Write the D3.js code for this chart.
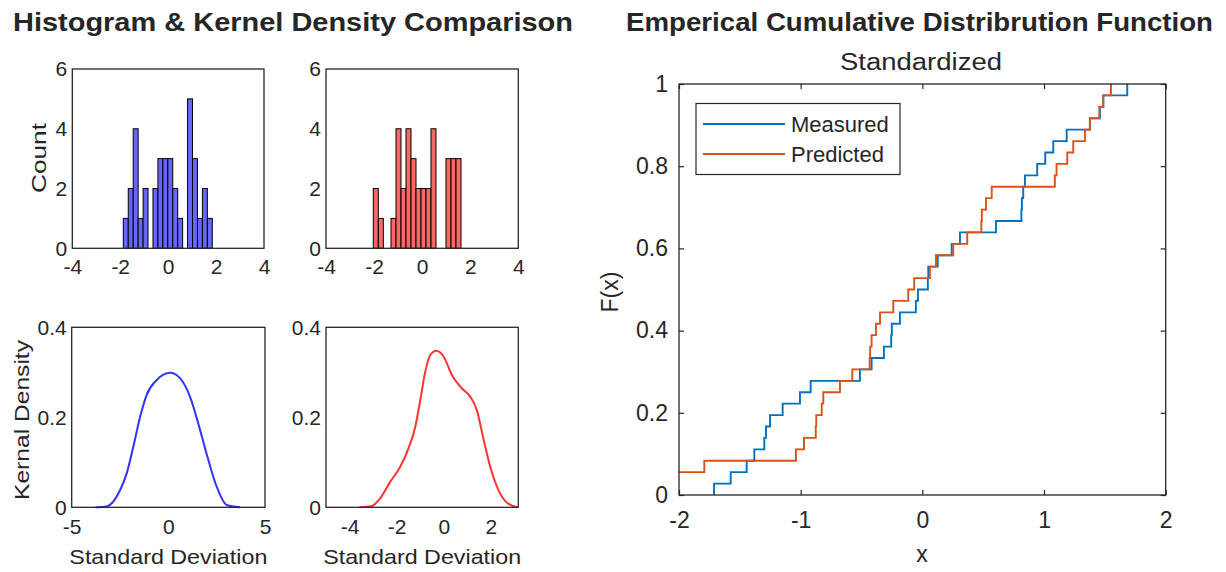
<!DOCTYPE html>
<meta charset="utf-8">
<title>Histogram, Kernel Density and ECDF</title>
<script src="https://d3js.org/d3.v7.min.js"></script>
<style>
  body { margin: 0; background: #fff; }
  text { font-family: "Liberation Sans", Arial, Helvetica, sans-serif; fill: #262626; }
</style>
<body>
</body>
<script>
// ---- histogram bins (left edge, in standard deviations) ----
var measuredBinLeft = [-1.871, -1.665, -1.458, -1.252, -1.046, -0.633, -0.427, -0.221, -0.014, 0.192, 0.398, 0.811, 1.017, 1.224, 1.430, 1.636];
var measuredCounts = [1, 2, 4, 1, 2, 2, 3, 3, 3, 2, 1, 5, 3, 1, 2, 1];
var measuredBinWidth = 0.206;
var predictedBinLeft = [-2.032, -1.824, -1.296, -1.088, -0.880, -0.672, -0.464, -0.256, -0.048, 0.160, 0.368, 0.992, 1.200, 1.408];
var predictedCounts = [2, 1, 1, 4, 2, 4, 3, 2, 2, 2, 4, 3, 3, 3];
var predictedBinWidth = 0.208;

// ---- kernel density curves ----
var measuredKdeX = [-3.76, -3.19, -2.5, -2.15, -1.81, -1.46, -1.12, -0.6, 0.09, 0.6, 1.12, 1.64, 2.07, 2.5, 3.02, 3.71];
var measuredKdeY = [0, 0.002, 0.038, 0.076, 0.135, 0.201, 0.25, 0.283, 0.299, 0.287, 0.246, 0.172, 0.105, 0.046, 0.005, 0];
var predictedKdeX = [-3.58, -3.05, -2.70, -2.27, -1.85, -1.50, -1.21, -1.00, -0.79, -0.58, -0.32, -0.01, 0.34, 0.77, 1.12, 1.40, 1.69, 1.97, 2.32, 2.68, 3.13];
var predictedKdeY = [0, 0.003, 0.02, 0.057, 0.09, 0.131, 0.179, 0.238, 0.301, 0.338, 0.348, 0.335, 0.294, 0.264, 0.246, 0.216, 0.15, 0.09, 0.038, 0.01, 0];

// ---- sorted standardized samples for the ECDF ----
var measuredSorted = [-1.712, -1.575, -1.444, -1.381, -1.299, -1.285, -1.252, -1.148, -1.006, -0.918,
  -0.513, -0.417, -0.316, -0.256, -0.251, -0.184, -0.053, -0.036, 0.045, 0.049,
  0.126, 0.241, 0.309, 0.605, 0.814, 0.818, 0.829, 0.843, 0.944, 1.010,
  1.076, 1.186, 1.377, 1.459, 1.487, 1.684];
var predictedSorted = [-2.03, -2.01, -1.792, -1.039, -0.973, -0.876, -0.872, -0.827, -0.814, -0.677,
  -0.576, -0.433, -0.429, -0.417, -0.381, -0.348, -0.239, -0.116, -0.067, 0.062,
  0.112, 0.254, 0.369, 0.485, 0.489, 0.523, 0.570, 1.089, 1.103, 1.191,
  1.240, 1.336, 1.377, 1.454, 1.487, 1.550];

// ---- ticks ----
var histXTicks = [-4, -2, 0, 2, 4];
var histYTicks = [0, 2, 4, 6];
var kdeYTicks = [0, 0.2, 0.4];
var measuredKdeXTicks = [-5, 0, 5];
var predictedKdeXTicks = [-4, -2, 0, 2];
var ecdfXTicks = [-2, -1, 0, 1, 2];
var ecdfYTicks = [0, 0.2, 0.4, 0.6, 0.8, 1];

var svg = d3.select("body").append("svg")
            .attr("width", 1226)
            .attr("height", 572);

var axisColor = "#262626";
var smallText = "#404040";

function label(v) { return String(v); }

// plain text helper; width (optional) stretches the text to the measured span
function addText(x, y, str, size, color, opts) {
  opts = opts || {};
  var t = svg.append("text")
     .attr("transform", "translate(" + x + "," + y + ")" + (opts.rotate ? " rotate(-90)" : ""))
     .attr("text-anchor", opts.anchor || "middle")
     .attr("font-size", size)
     .attr("fill", color)
     .text(str);
  if (opts.bold) t.attr("font-weight", "bold");
  if (opts.width) t.attr("textLength", opts.width).attr("lengthAdjust", "spacingAndGlyphs");
  return t;
}

// draws a boxed panel with tick labels, returns scales + group
function panel(p) {
  var x = d3.scaleLinear().domain(p.xDomain).range([p.left, p.right]);
  var y = d3.scaleLinear().domain(p.yDomain).range([p.bottom, p.top]);
  var g = svg.append("g");
  var tick = p.tick || 0;

  g.append("g")
   .attr("transform", "translate(0," + p.bottom + ")")
   .call(d3.axisBottom(x).tickValues(p.xTicks).tickFormat(label).tickSizeInner(-tick).tickSizeOuter(0).tickPadding(p.xPad))
   .call(function (a) { a.select(".domain").remove(); });
  g.append("g")
   .attr("transform", "translate(" + p.left + ",0)")
   .call(d3.axisLeft(y).tickValues(p.yTicks).tickFormat(label).tickSizeInner(-tick).tickSizeOuter(0).tickPadding(p.yPad))
   .call(function (a) { a.select(".domain").remove(); });
  if (tick) {
    g.append("g")
     .attr("transform", "translate(0," + p.top + ")")
     .call(d3.axisTop(x).tickValues(p.xTicks).tickFormat("").tickSizeInner(-tick).tickSizeOuter(0))
     .call(function (a) { a.select(".domain").remove(); });
    g.append("g")
     .attr("transform", "translate(" + p.right + ",0)")
     .call(d3.axisRight(y).tickValues(p.yTicks).tickFormat("").tickSizeInner(-tick).tickSizeOuter(0))
     .call(function (a) { a.select(".domain").remove(); });
  }
  g.selectAll(".tick line").attr("stroke", axisColor).attr("stroke-width", 1.2);
  g.selectAll(".tick text")
   .attr("font-family", "Liberation Sans, Arial, sans-serif")
   .attr("font-size", p.fontSize)
   .attr("fill", p.textColor || axisColor);

  var plot = svg.append("g");
  svg.append("rect")
     .attr("x", p.left).attr("y", p.top)
     .attr("width", p.right - p.left).attr("height", p.bottom - p.top)
     .attr("fill", "none")
     .attr("stroke", axisColor)
     .attr("stroke-width", 1.3);
  return {x: x, y: y, g: plot};
}

// ---------- titles ----------
addText(293, 31, "Histogram & Kernel Density Comparison", 26, "#000", {bold: true, width: 560});
addText(919.5, 31, "Emperical Cumulative Distribrution Function", 26, "#000", {bold: true, width: 587});

// ---------- histograms ----------
function histogram(pos, left, counts, width, fill) {
  var p = panel({left: pos[0], right: pos[1], top: 69, bottom: 248.3,
                 xDomain: [-4, 4], yDomain: [0, 6], xTicks: histXTicks, yTicks: histYTicks,
                 xPad: 11, yPad: 5, fontSize: 21, textColor: smallText});
  p.g.selectAll("rect")
     .data(counts)
     .enter()
     .append("rect")
     .attr("x", function (d, i) { return p.x(left[i]); })
     .attr("y", function (d) { return p.y(d); })
     .attr("width", function (d, i) { return p.x(left[i] + width) - p.x(left[i]); })
     .attr("height", function (d) { return p.y(0) - p.y(d); })
     .attr("fill", fill)
     .attr("stroke", "#000")
     .attr("stroke-width", 1);
}
histogram([72.3, 264], measuredBinLeft, measuredCounts, measuredBinWidth, "#6666ff");
histogram([326, 518.3], predictedBinLeft, predictedCounts, predictedBinWidth, "#ff6666");

addText(46, 158, "Count", 21, smallText, {rotate: true, width: 70});

// ---------- kernel densities ----------
function density(pos, xDomain, xTicks, xs, ys, color) {
  var p = panel({left: pos[0], right: pos[1], top: 327.3, bottom: 507.3,
                 xDomain: xDomain, yDomain: [0, 0.4], xTicks: xTicks, yTicks: kdeYTicks,
                 xPad: 12, yPad: 5, fontSize: 21, textColor: smallText});
  var pts = xs.map(function (v, i) { return [v, ys[i]]; });
  p.g.append("path")
     .datum(pts)
     .attr("d", d3.line()
                  .x(function (d) { return p.x(d[0]); })
                  .y(function (d) { return p.y(d[1]); })
                  .curve(d3.curveMonotoneX))
     .attr("fill", "none")
     .attr("stroke", color)
     .attr("stroke-width", 2);
  addText((pos[0] + pos[1]) / 2, 564, "Standard Deviation", 21, smallText, {width: 198});
}
density([71.7, 265], [-5, 5], measuredKdeXTicks, measuredKdeX, measuredKdeY, "#3333ff");
density([326, 518.3], [-5, 3.16], predictedKdeXTicks, predictedKdeX, predictedKdeY, "#ff3333");

addText(29, 420, "Kernal Density", 21, smallText, {rotate: true, width: 160});

// ---------- ECDF ----------
var ecdf = panel({left: 679, right: 1165.7, top: 84, bottom: 495,
                  xDomain: [-2, 2], yDomain: [0, 1], xTicks: ecdfXTicks, yTicks: ecdfYTicks,
                  tick: 5, xPad: 17, yPad: 11, fontSize: 23, textColor: "#000"});

svg.append("defs").append("clipPath").attr("id", "ecdf-clip")
   .append("rect")
   .attr("x", 679).attr("y", 83).attr("width", 487).attr("height", 413);

function stairs(sorted, color) {
  var n = sorted.length;
  var pts = [[sorted[0], 0]].concat(sorted.map(function (v, i) { return [v, (i + 1) / n]; }));
  ecdf.g.append("path")
     .datum(pts)
     .attr("clip-path", "url(#ecdf-clip)")
     .attr("d", d3.line()
                  .x(function (d) { return ecdf.x(d[0]); })
                  .y(function (d) { return ecdf.y(d[1]); })
                  .curve(d3.curveStepAfter))
     .attr("fill", "none")
     .attr("stroke", color)
     .attr("stroke-width", 1.9);
}
var seriesNames = ["Measured", "Predicted"];
var seriesColors = ["#0072bd", "#d95319"];
stairs(measuredSorted, seriesColors[0]);
stairs(predictedSorted, seriesColors[1]);

addText(921, 70, "Standardized", 23, "#000", {width: 162});
addText(922, 562, "x", 23, "#000");
addText(618, 292, "F(x)", 23, "#000", {rotate: true});

// legend
var legend = svg.append("g");
legend.append("rect")
      .attr("x", 696).attr("y", 103.5).attr("width", 204).attr("height", 71)
      .attr("fill", "#fff").attr("stroke", axisColor).attr("stroke-width", 1.2);
legend.selectAll("line")
      .data(seriesNames)
      .enter()
      .append("line")
      .attr("x1", 703).attr("x2", 785)
      .attr("y1", function (d, i) { return 124 + i * 30; })
      .attr("y2", function (d, i) { return 124 + i * 30; })
      .attr("stroke", function (d, i) { return seriesColors[i]; })
      .attr("stroke-width", 1.9);
legend.selectAll("text")
      .data(seriesNames)
      .enter()
      .append("text")
      .attr("x", 791)
      .attr("y", function (d, i) { return 131.5 + i * 30; })
      .attr("font-size", 22).attr("fill", "#000")
      .text(function (d) { return d; });
</script>
